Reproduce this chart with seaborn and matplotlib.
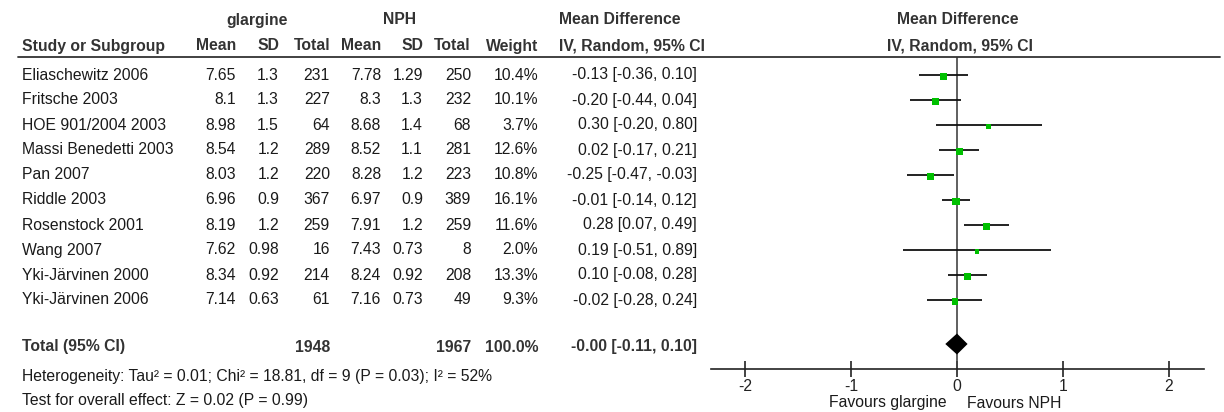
import numpy as np
import matplotlib
matplotlib.use("Agg")
import matplotlib.pyplot as plt
from matplotlib.lines import Line2D
import seaborn as sns

studies = ["Eliaschewitz 2006", "Fritsche 2003", "HOE 901/2004 2003",
           "Massi Benedetti 2003", "Pan 2007", "Riddle 2003",
           "Rosenstock 2001", "Wang 2007", "Yki-Järvinen 2000",
           "Yki-Järvinen 2006"]
g_mean = [7.65, 8.1, 8.98, 8.54, 8.03, 6.96, 8.19, 7.62, 8.34, 7.14]
g_sd = [1.3, 1.3, 1.5, 1.2, 1.2, 0.9, 1.2, 0.98, 0.92, 0.63]
g_n = [231, 227, 64, 289, 220, 367, 259, 16, 214, 61]
n_mean = [7.78, 8.3, 8.68, 8.52, 8.28, 6.97, 7.91, 7.43, 8.24, 7.16]
n_sd = [1.29, 1.3, 1.4, 1.1, 1.2, 0.9, 1.2, 0.73, 0.92, 0.73]
n_n = [250, 232, 68, 281, 223, 389, 259, 8, 208, 49]
weight = [10.4, 10.1, 3.7, 12.6, 10.8, 16.1, 11.6, 2.0, 13.3, 9.3]
md = [-0.13, -0.20, 0.30, 0.02, -0.25, -0.01, 0.28, 0.19, 0.10, -0.02]
ci_lo = [-0.36, -0.44, -0.20, -0.17, -0.47, -0.14, 0.07, -0.51, -0.08, -0.28]
ci_hi = [0.10, 0.04, 0.80, 0.21, -0.03, 0.12, 0.49, 0.89, 0.28, 0.24]

total_g_n = 1948
total_n_n = 1967
total_weight = 100.0
total_md = -0.0
total_lo = -0.11
total_hi = 0.10

heterogeneity = "Heterogeneity: Tau² = 0.01; Chi² = 18.81, df = 9 (P = 0.03); I² = 52%"
overall = "Test for overall effect: Z = 0.02 (P = 0.99)"
x_ticks = [-2, -1, 0, 1, 2]

W, H = 1224, 412
FS = 11.3

sns.set_style("white")
plt.rcParams["font.family"] = ["Liberation Sans", "DejaVu Sans"]
plt.rcParams["axes.unicode_minus"] = False

fig = plt.figure(figsize=(W / 100, H / 100), dpi=100)


def put(x, y, s, ha="left", bold=False, color="#1a1a1a", size=FS):
    fig.text(x / W, 1 - y / H, s, ha=ha, va="center", fontsize=size,
             fontweight="bold" if bold else "normal", color=color)


def ci_text(m, lo, hi):
    return f"{m:.2f} [{lo:.2f}, {hi:.2f}]"


# column right edges (px)
cols = [236, 279, 330, 381, 423, 471, 538, 697]
hdr = "#333333"

put(257, 20, "glargine", ha="center", bold=True, color=hdr)
put(400, 20, "NPH", ha="center", bold=True, color=hdr)
put(559, 20, "Mean Difference", bold=True, color=hdr)
put(958, 20, "Mean Difference", ha="center", bold=True, color=hdr)

put(22, 46, "Study or Subgroup", bold=True, color=hdr)
for x, s in zip(cols[:7], ["Mean", "SD", "Total", "Mean", "SD", "Total", "Weight"]):
    put(x, 46, s, ha="right", bold=True, color=hdr)
put(559, 46, "IV, Random, 95% CI", bold=True, color=hdr)
put(960, 46, "IV, Random, 95% CI", ha="center", bold=True, color=hdr)

fig.add_artist(Line2D([18 / W, 1220 / W], [1 - 57 / H, 1 - 57 / H],
                      color="#333333", lw=1.3))

row_y = [75 + 25 * i for i in range(len(studies))]
for i, y in enumerate(row_y):
    put(22, y, studies[i])
    vals = [f"{g_mean[i]:g}", f"{g_sd[i]:g}", f"{g_n[i]}",
            f"{n_mean[i]:g}", f"{n_sd[i]:g}", f"{n_n[i]}",
            f"{weight[i]:.1f}%", ci_text(md[i], ci_lo[i], ci_hi[i])]
    for x, s in zip(cols, vals):
        put(x, y, s, ha="right")

put(22, 347, "Total (95% CI)", bold=True, color=hdr)
put(cols[2], 347, f"{total_g_n}", ha="right", bold=True, color=hdr)
put(cols[5], 347, f"{total_n_n}", ha="right", bold=True, color=hdr)
put(cols[6], 347, f"{total_weight:.1f}%", ha="right", bold=True, color=hdr)
put(cols[7], 347, ci_text(total_md, total_lo, total_hi), ha="right", bold=True, color=hdr)
put(22, 376, heterogeneity)
put(22, 400, overall)

# forest panel: x axis line at y=369px, top at header line
ax = fig.add_axes([711 / W, 1 - 369 / H, (1204 - 711) / W, (369 - 57) / H])
ax.set_facecolor("none")
ax.set_xlim(-2.32, 2.33)
ax.set_ylim((369 - 75) / 25, (57 - 75) / 25)

rows = np.arange(len(studies))
ax.axvline(0, color="#444444", lw=1.2, zorder=1)
ax.hlines(rows, ci_lo, ci_hi, color="#111111", lw=1.3, zorder=2)
sns.scatterplot(x=md, y=rows + 0.06, size=weight, sizes=(10, 32), marker="s",
                color="#00c000", edgecolor="none", legend=False, ax=ax, zorder=3)

ty = (344 - 75) / 25
hh = 10.5 / 25
ax.fill([total_lo, total_md, total_hi, total_md],
        [ty, ty - hh, ty, ty + hh], color="black", zorder=4, lw=0)

for side in ["top", "left", "right"]:
    ax.spines[side].set_visible(False)
ax.spines["bottom"].set_color("#222222")
ax.spines["bottom"].set_linewidth(1.2)
ax.set_xticks(x_ticks)
ax.set_xticklabels([str(t) for t in x_ticks])
ax.set_yticks([])
ax.tick_params(axis="x", direction="inout", length=11, width=1.2,
               labelsize=FS, pad=2, colors="#222222", bottom=True)
ax.set_xlabel("")
ax.set_ylabel("")

put(947, 403, "Favours glargine", ha="right")
put(967, 403, "Favours NPH")

fig.savefig("out.png", dpi=100)
